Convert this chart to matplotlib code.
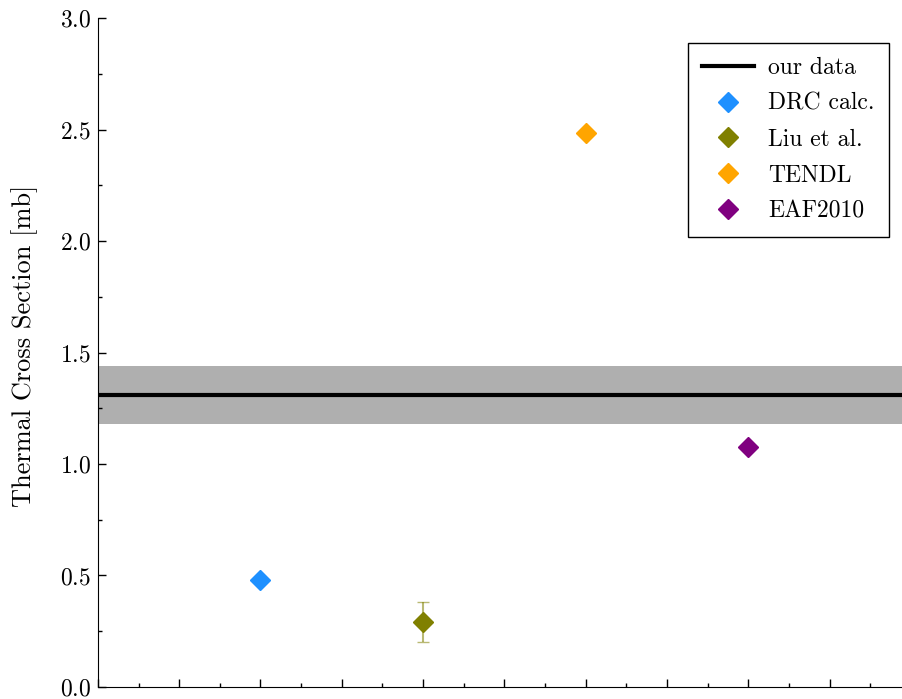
import numpy as np
import matplotlib
matplotlib.use("Agg")
import matplotlib.pyplot as plt
from matplotlib.ticker import MultipleLocator, NullFormatter

plt.rcParams['font.family'] = 'serif'
plt.rcParams['font.serif'] = ['cmr10']
plt.rcParams['mathtext.fontset'] = 'cm'
plt.rcParams['axes.formatter.use_mathtext'] = True

# measured value with uncertainty band
our_value = 1.31
our_err = 0.13

# comparison values
labels = ['DRC calc.', 'Liu et al.', 'TENDL', 'EAF2010']
xpos = [2, 4, 6, 8]
values = [0.48, 0.29, 2.485, 1.075]
errors = [None, 0.09, None, None]
colors = ['#1e90ff', '#808000', '#ffa500', '#800080']

fig = plt.figure(figsize=(9.02, 6.99), dpi=100)
ax = fig.add_axes([0.1085, 0.0172, 0.8915, 0.957])

xlim = (0, 9.89)
ax.fill_between(xlim, our_value - our_err, our_value + our_err, color='#afafaf', lw=0, zorder=1)
ax.plot(xlim, [our_value, our_value], color='black', lw=3, label='our data', zorder=2)

for x, v, e, c, lab in zip(xpos, values, errors, colors, labels):
    if e is not None:
        ax.errorbar(x, v, yerr=e, fmt='none', ecolor=c, alpha=0.55, capsize=4, lw=1.5, zorder=3)
    ax.plot(x, v, 'D', color=c, ms=10.5, ls='none', label=lab, zorder=4)

ax.set_xlim(*xlim)
ax.set_ylim(0, 3)
ax.xaxis.set_major_locator(MultipleLocator(1))
ax.xaxis.set_minor_locator(MultipleLocator(0.5))
ax.xaxis.set_major_formatter(NullFormatter())
ax.yaxis.set_major_locator(MultipleLocator(0.5))
ax.yaxis.set_minor_locator(MultipleLocator(0.25))
ax.tick_params(which='both', direction='in', labelsize=17, pad=5)
ax.tick_params(which='major', length=6, width=1)
ax.tick_params(which='minor', length=3, width=1)
ax.spines['top'].set_visible(False)
ax.spines['right'].set_visible(False)
ax.set_ylabel('Thermal Cross Section [mb]', fontsize=19)
ax.yaxis.set_label_coords(-0.075, 0.51)

leg = ax.legend(loc='upper right', bbox_to_anchor=(0.984, 0.963), borderaxespad=0,
                fontsize=17, fancybox=False, edgecolor='black', framealpha=1,
                handlelength=2.2, handletextpad=0.6, borderpad=0.6, labelspacing=0.58)
leg.get_frame().set_linewidth(1)

fig.savefig('out.png', dpi=100)
